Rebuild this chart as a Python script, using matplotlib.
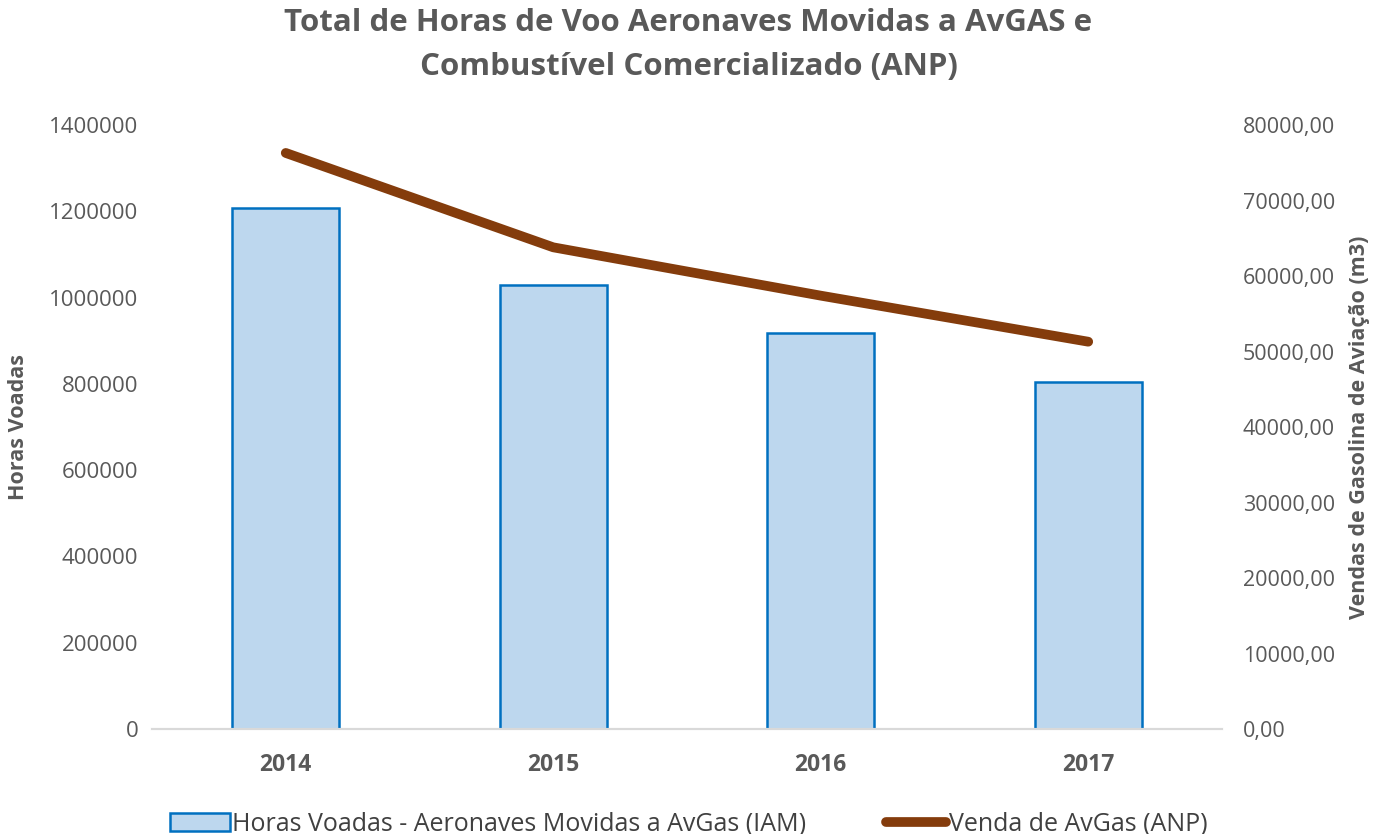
import matplotlib
matplotlib.use("Agg")
import matplotlib.pyplot as plt
from matplotlib.ticker import FuncFormatter

# Dados
anos = ["2014", "2015", "2016", "2017"]
horas_voadas = [1208000, 1029000, 918000, 804000]
venda_avgas = [76300, 63800, 57400, 51300]

TXT = "#595959"
plt.rcParams["font.family"] = ["Open Sans", "DejaVu Sans"]

fig = plt.figure(figsize=(13.77, 8.34), dpi=100)
ax = fig.add_axes([0.1104, 0.1259, 0.777, 0.7242])
ax2 = ax.twinx()

x = range(len(anos))
bars = ax.bar(x, horas_voadas, width=0.40, color="#bdd7ee", edgecolor="#0070c0",
              linewidth=1.8, label="Horas Voadas - Aeronaves Movidas a AvGas (IAM)", zorder=2)
line, = ax2.plot(x, venda_avgas, color="#843c0c", linewidth=7, solid_capstyle="round",
                 solid_joinstyle="round", label="Venda de AvGas (ANP)", zorder=3)

ax.set_xlim(-0.5, 3.5)
ax.set_ylim(0, 1400000)
ax.set_yticks(range(0, 1400001, 200000))
ax.yaxis.set_major_formatter(FuncFormatter(lambda v, p: f"{v:.0f}"))
ax2.set_ylim(0, 80000)
ax2.set_yticks(range(0, 80001, 10000))
ax2.yaxis.set_major_formatter(FuncFormatter(lambda v, p: f"{v:.2f}".replace(".", ",")))

ax.set_xticks(list(x))
ax.set_xticklabels(anos, fontsize=16.5, fontweight="bold", color=TXT)
ax.tick_params(axis="x", length=0, pad=17)
ax.tick_params(axis="y", length=0, labelsize=16, labelcolor=TXT, pad=10)
ax2.tick_params(axis="y", length=0, labelsize=15.5, labelcolor=TXT, pad=15)

for a in (ax, ax2):
    for side in ("top", "left", "right"):
        a.spines[side].set_visible(False)
    a.spines["bottom"].set_color("#d9d9d9")
    a.spines["bottom"].set_linewidth(1.5)

ax.set_ylabel("Horas Voadas", fontsize=15.5, fontweight="bold", color=TXT, labelpad=14)
ax2.set_ylabel("Vendas de Gasolina de Aviação (m3)", fontsize=15.5, fontweight="bold",
               color=TXT, labelpad=10)

fig.suptitle("Total de Horas de Voo Aeronaves Movidas a AvGAS e\nCombustível Comercializado (ANP)",
             fontsize=22.5, fontweight="bold", color=TXT, y=0.99, linespacing=1.6)

fig.legend(handles=[bars, line], loc="lower center", bbox_to_anchor=(0.5, -0.03), ncol=2,
           frameon=False, fontsize=18, handlelength=2.4, handletextpad=0.1,
           columnspacing=3.2, labelcolor="#404040")

fig.savefig("out.png", dpi=100)
